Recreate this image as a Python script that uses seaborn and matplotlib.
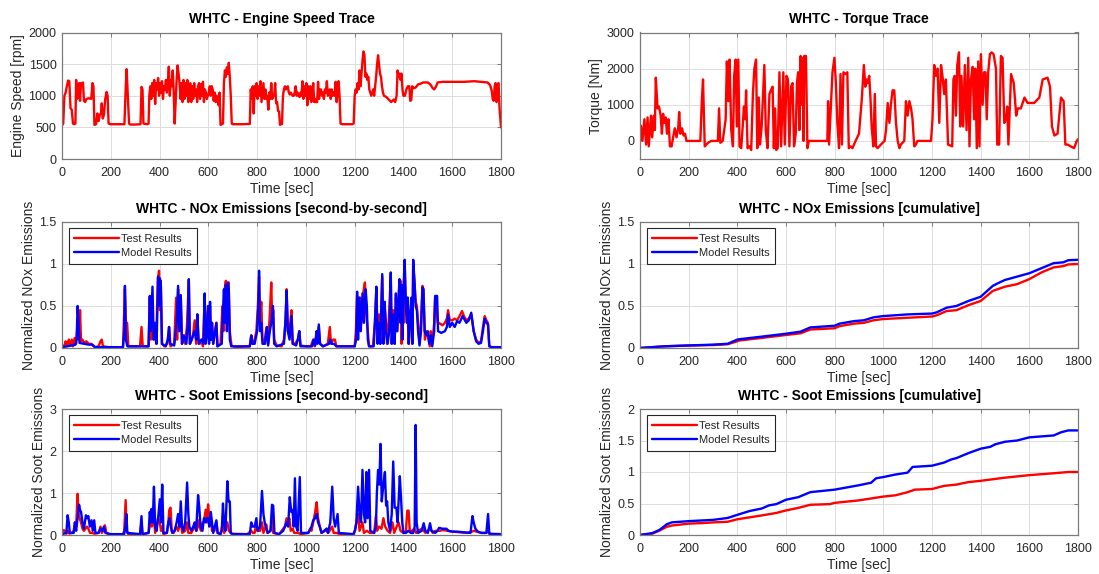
import matplotlib
matplotlib.use("Agg")
import matplotlib.pyplot as plt
import seaborn as sns
import pandas as pd

# ---------------- Engine speed trace [rpm] ----------------
speed_t = [0, 5, 10, 15, 20, 25, 30, 35, 40, 45, 50, 55, 58, 62, 66, 70, 74, 78, 82, 86, 90, 95, 100, 110, 120,
           125, 129, 133, 140, 145, 150, 155, 160, 163, 167, 172, 177, 183, 187, 191, 200, 230, 256, 261, 265,
           270, 275, 280, 300, 322, 326, 330, 334, 350, 355, 358, 362, 366, 370, 374, 378, 382, 386, 390, 394,
           398, 402, 406, 410, 414, 418, 422, 426, 430, 434, 438, 442, 446, 450, 454, 458, 462, 466, 470, 474,
           478, 482, 486, 490, 494, 498, 502, 506, 510, 514, 518, 522, 526, 530, 534, 538, 542, 546, 550, 554,
           558, 562, 566, 570, 574, 578, 582, 586, 590, 594, 598, 602, 606, 610, 614, 618, 622, 626, 630, 634,
           638, 642, 646, 650, 655, 660, 664, 668, 672, 676, 680, 684, 688, 692, 696, 700, 740, 770, 774, 778,
           782, 786, 790, 794, 798, 802, 806, 810, 814, 818, 822, 826, 830, 834, 838, 842, 846, 850, 854, 858,
           862, 866, 870, 874, 878, 882, 886, 890, 894, 898, 902, 906, 910, 914, 918, 922, 926, 930, 934, 938,
           942, 946, 950, 954, 958, 962, 966, 970, 974, 978, 982, 986, 990, 994, 998, 1002, 1006, 1010, 1014,
           1018, 1022, 1026, 1030, 1034, 1038, 1042, 1046, 1050, 1054, 1058, 1062, 1066, 1070, 1074, 1078, 1082,
           1086, 1090, 1094, 1098, 1102, 1106, 1110, 1114, 1118, 1122, 1126, 1130, 1134, 1138, 1142, 1150, 1190,
           1196, 1200, 1204, 1208, 1212, 1216, 1220, 1224, 1228, 1232, 1236, 1240, 1244, 1248, 1252, 1256, 1260,
           1264, 1268, 1272, 1276, 1280, 1284, 1288, 1292, 1296, 1300, 1304, 1308, 1312, 1316, 1320, 1330, 1340,
           1350, 1360, 1366, 1372, 1376, 1380, 1384, 1388, 1392, 1396, 1400, 1406, 1412, 1418, 1424, 1428, 1432,
           1436, 1442, 1450, 1460, 1470, 1480, 1500, 1510, 1520, 1526, 1534, 1540, 1560, 1600, 1650, 1690, 1720,
           1745, 1755, 1762, 1766, 1770, 1774, 1778, 1782, 1786, 1790, 1794, 1800]
speed_rpm = [530, 560, 1000, 1050, 1150, 1240, 1230, 800, 780, 560, 550, 560, 1250, 950, 1000, 1200, 920, 1200,
             1180, 1210, 920, 900, 950, 960, 950, 1200, 1150, 540, 550, 720, 600, 700, 720, 880, 640, 700, 940,
             1060, 1000, 560, 550, 550, 550, 1100, 1420, 1000, 560, 545, 545, 550, 1140, 1100, 560, 550, 560,
             1000, 1150, 950, 1200, 1000, 1250, 870, 1200, 1100, 1280, 1000, 1200, 1050, 1230, 950, 1150, 1100,
             1250, 1050, 1200, 1460, 1000, 1250, 1150, 1400, 1050, 560, 900, 1250, 1480, 1350, 1200, 950, 1200,
             900, 1250, 950, 1200, 1000, 1250, 900, 1100, 1200, 900, 1150, 950, 1200, 1000, 1100, 900, 1150,
             1200, 950, 1180, 1000, 1220, 900, 1100, 1050, 950, 1000, 1050, 1150, 1000, 1150, 1100, 920, 1050,
             900, 1000, 920, 850, 1050, 540, 550, 560, 1200, 1400, 1300, 1450, 1350, 1520, 1300, 1000, 560, 550,
             550, 555, 1100, 950, 1150, 720, 1150, 1000, 1200, 950, 1150, 1000, 1230, 900, 1050, 1200, 950, 1100,
             950, 1000, 780, 1050, 950, 1200, 950, 1000, 1000, 1200, 880, 900, 760, 750, 540, 560, 550, 1000,
             1100, 1150, 1100, 1120, 1150, 1050, 1020, 1050, 1020, 1000, 1000, 1050, 1150, 1000, 1050, 1000, 980,
             1050, 1000, 1230, 950, 1150, 1000, 1200, 850, 1150, 950, 1150, 900, 1000, 1200, 900, 950, 900, 900,
             1220, 950, 1100, 1100, 1000, 1050, 950, 1100, 1050, 1230, 1000, 1050, 1100, 950, 1100, 1000, 1050,
             1000, 1220, 900, 1050, 1230, 1000, 560, 550, 550, 560, 1000, 1100, 1050, 1200, 1100, 1400, 1150,
             1350, 1550, 1700, 1650, 1300, 1350, 1250, 1300, 1100, 1050, 1000, 1050, 1100, 1000, 1150, 1300, 1500,
             1640, 1500, 1350, 1300, 1150, 1050, 1000, 980, 940, 900, 940, 900, 1000, 1400, 1300, 1350, 1250,
             1350, 1100, 1000, 1000, 1100, 1150, 1150, 920, 930, 1150, 1120, 1130, 1180, 1190, 1210, 1210, 1180,
             1120, 1100, 1150, 1210, 1220, 1220, 1220, 1230, 1220, 1210, 1170, 1080, 950, 920, 1150, 1200, 900,
             1180, 1200, 800, 500]

# ---------------- Torque trace [Nm] ----------------
torque_t = [0, 4, 10, 18, 25, 31, 36, 45, 50, 57,
            61, 65, 72, 78, 85, 90, 95, 100, 106, 111,
            117, 123, 130, 136, 143, 150, 157, 161, 166, 173,
            179, 185, 191, 220, 248, 254, 259, 266, 280, 293,
            320, 325, 330, 340, 352, 357, 363, 368, 375, 382,
            387, 393, 398, 404, 409, 416, 423, 427, 432, 436,
            442, 450, 457, 464, 470, 477, 482, 488, 493, 500,
            505, 511, 517, 524, 532, 538, 545, 550, 555, 560,
            566, 573, 580, 589, 595, 602, 608, 614, 621, 627,
            633, 640, 645, 650, 655, 660, 664, 668, 672, 675,
            682, 688, 694, 700, 740, 770, 773, 777, 784, 791,
            799, 805, 811, 818, 824, 830, 836, 845, 852, 858,
            866, 873, 886, 900, 906, 912, 920, 926, 931, 936,
            942, 947, 952, 959, 965, 970, 976, 990, 1005, 1011,
            1018, 1025, 1031, 1038, 1045, 1052, 1059, 1066, 1072, 1086,
            1093, 1100, 1107, 1114, 1120, 1127, 1134, 1140, 1160, 1196,
            1202, 1209, 1216, 1223, 1230, 1237, 1243, 1250, 1257, 1266,
            1283, 1288, 1293, 1298, 1304, 1311, 1316, 1321, 1328, 1335,
            1342, 1349, 1354, 1360, 1367, 1373, 1378, 1384, 1390, 1395,
            1401, 1408, 1414, 1420, 1425, 1431, 1438, 1445, 1453, 1463,
            1468, 1476, 1483, 1490, 1497, 1504, 1509, 1514, 1525, 1536,
            1546, 1552, 1565, 1580, 1593, 1620, 1641, 1655, 1675, 1685,
            1693, 1703, 1716, 1730, 1741, 1748, 1757, 1770, 1784, 1795,
            1800]
torque_nm = [0, 420, 0, 600, -100, 650, -150, 700, 100, 700,
             300, 1750, 900, 950, 700, 200, 750, 500, 650, 200,
             600, -150, -150, 100, 350, 100, 350, 800, 200, 350,
             150, 200, 0, 0, 0, 1100, 1700, -150, -50, 0,
             0, 900, -50, 0, 600, 2200, 1100, 2250, 300, -150,
             1800, 2250, 400, 2250, -150, -200, 500, 950, 600, 1400,
             -200, -150, -250, 1300, 2000, 2250, -200, 1200, -100, 400,
             1200, 2100, 300, -200, 1300, 1400, 1500, -200, 900, -250,
             -200, 1900, -150, 1900, -100, 1800, 1700, -150, 1500, 1600,
             -150, 200, 1600, 1900, 300, 2350, 1000, 2300, 0, 2350,
             2350, -200, 0, 0, 0, 0, 1100, -100, 900, 1900,
             2300, 1600, 500, -200, 1850, -100, 1900, 1850, 1900, -200,
             -150, -200, 0, 200, 700, 1200, 2100, 1500, 1700, 1600,
             1800, 1200, 400, -150, 1300, -150, -200, -100, 0, 300,
             1050, 500, 1000, 1400, 1400, 500, 0, -200, -100, 0,
             1100, 700, 1100, 900, 600, -150, -100, 0, 0, 0,
             600, 2100, 1800, 2000, 500, 2100, 1800, 1300, 1700, -100,
             -150, 1700, 1800, 700, 2100, 2450, 400, 1800, 400, 2100,
             300, 2300, -150, 1700, 2050, 600, 2000, -200, 2200, -150,
             2400, 1000, 1900, 1900, 600, 1900, 2400, 2450, 2400, 2000,
             -100, -100, 2350, 2300, 500, 600, 950, -100, 1850, 1600,
             700, 900, 900, 1200, 1050, 1050, 1200, 1700, 1750, 1500,
             400, 150, 200, 1200, 1100, -100, -100, -150, -200, 0,
             50]

# ---------------- NOx, second-by-second (normalized) ----------------
nox_test_t = [0, 10, 15, 20, 28, 33, 40, 45, 52, 58, 64, 70, 74, 78, 84, 90, 100, 110, 120, 126, 135, 150, 158,
              163, 168, 190, 250, 258, 262, 267, 272, 320, 326, 331, 355, 360, 364, 371, 375, 380, 386, 393, 398,
              402, 405, 410, 420, 432, 439, 445, 460, 468, 472, 476, 480, 487, 492, 500, 505, 512, 520, 525, 532,
              537, 544, 550, 555, 560, 565, 572, 578, 585, 590, 599, 603, 607, 611, 615, 620, 633, 638, 650, 658,
              662, 667, 672, 676, 680, 683, 688, 695, 710, 770, 776, 781, 790, 797, 803, 808, 812, 817, 822, 830,
              836, 840, 845, 852, 858, 862, 866, 870, 880, 900, 910, 916, 921, 926, 932, 936, 941, 946, 955, 967,
              973, 978, 1000, 1020, 1030, 1036, 1044, 1048, 1053, 1058, 1070, 1090, 1098, 1103, 1112, 1119, 1125,
              1200, 1205, 1210, 1215, 1222, 1228, 1235, 1242, 1248, 1254, 1259, 1275, 1283, 1289, 1294, 1300,
              1305, 1313, 1318, 1323, 1328, 1333, 1340, 1348, 1352, 1358, 1364, 1369, 1375, 1382, 1388, 1392,
              1396, 1401, 1405, 1410, 1416, 1421, 1426, 1432, 1436, 1440, 1445, 1450, 1455, 1460, 1466, 1472,
              1478, 1482, 1488, 1494, 1500, 1508, 1512, 1518, 1526, 1530, 1535, 1540, 1545, 1560, 1570, 1578,
              1583, 1590, 1600, 1610, 1620, 1630, 1640, 1648, 1658, 1668, 1678, 1688, 1698, 1708, 1718, 1726,
              1733, 1740, 1746, 1752, 1760, 1800]
nox_test = [0.02, 0.03, 0.08, 0.02, 0.1, 0.03, 0.1, 0.02, 0.12, 0.05, 0.3, 0.1, 0.45, 0.08, 0.1, 0.06, 0.08, 0.05,
            0.05, 0.03, 0.01, 0.02, 0.08, 0.1, 0.02, 0.01, 0.01, 0.7, 0.3, 0.3, 0.02, 0.02, 0.25, 0.02, 0.02, 0.6,
            0.1, 0.3, 0.1, 0.25, 0.05, 0.82, 0.92, 0.45, 0.8, 0.05, 0.02, 0.05, 0.25, 0.02, 0.05, 0.6, 0.1, 0.7,
            0.3, 0.6, 0.05, 0.15, 0.05, 0.25, 0.8, 0.05, 0.1, 0.15, 0.33, 0.05, 0.4, 0.1, 0.05, 0.1, 0.02, 0.6,
            0.1, 0.45, 0.1, 0.5, 0.1, 0.3, 0.05, 0.3, 0.02, 0.05, 0.5, 0.2, 0.7, 0.8, 0.3, 0.75, 0.78, 0.2, 0.03,
            0.01, 0.02, 0.15, 0.05, 0.1, 0.2, 0.5, 0.85, 0.3, 0.55, 0.1, 0.05, 0.2, 0.25, 0.05, 0.4, 0.78, 0.3,
            0.45, 0.1, 0.03, 0.02, 0.1, 0.3, 0.7, 0.2, 0.15, 0.3, 0.45, 0.05, 0.05, 0.1, 0.2, 0.03, 0.02, 0.02,
            0.1, 0.02, 0.2, 0.1, 0.25, 0.05, 0.02, 0.05, 0.25, 0.05, 0.1, 0.1, 0.02, 0.02, 0.2, 0.62, 0.2, 0.6,
            0.3, 0.65, 0.78, 0.4, 0.2, 0.02, 0.02, 0.3, 0.7, 0.1, 0.4, 0.05, 0.85, 0.1, 0.5, 0.3, 0.05, 0.35,
            0.85, 0.05, 0.45, 0.05, 0.6, 0.2, 0.7, 0.8, 0.05, 0.7, 0.3, 1.0, 0.4, 0.6, 0.05, 0.3, 0.5, 0.05, 1.0,
            0.8, 0.55, 0.5, 0.3, 0.05, 0.3, 0.74, 0.7, 0.1, 0.2, 0.15, 0.02, 0.2, 0.05, 0.3, 0.6, 0.55, 0.3, 0.3,
            0.27, 0.3, 0.35, 0.45, 0.33, 0.33, 0.35, 0.33, 0.38, 0.44, 0.38, 0.33, 0.35, 0.4, 0.2, 0.1, 0.06, 0.08,
            0.25, 0.38, 0.33, 0.3, 0.03, 0.01, 0.01]

nox_model_t = [0, 20, 40, 55, 60, 64, 68, 72, 90, 110, 125, 135, 250, 255, 258, 262, 268, 355, 360, 364, 371,
               376, 382, 388, 394, 398, 401, 405, 410, 425, 434, 439, 443, 460, 470, 476, 481, 487, 492, 500, 505,
               510, 516, 520, 524, 532, 537, 544, 550, 555, 560, 572, 580, 585, 589, 594, 599, 603, 607, 611, 615,
               620, 633, 637, 655, 660, 664, 668, 672, 676, 680, 684, 688, 694, 770, 776, 781, 790, 800, 805, 808,
               812, 817, 822, 832, 840, 845, 852, 858, 865, 870, 880, 910, 916, 921, 926, 933, 941, 946, 960, 967,
               973, 978, 1025, 1032, 1038, 1044, 1048, 1053, 1058, 1070, 1095, 1100, 1106, 1115, 1125, 1200, 1206,
               1210, 1214, 1219, 1225, 1232, 1238, 1245, 1250, 1254, 1259, 1278, 1283, 1289, 1294, 1300, 1305,
               1313, 1318, 1323, 1328, 1335, 1342, 1348, 1352, 1358, 1364, 1369, 1374, 1380, 1384, 1388, 1392,
               1396, 1400, 1405, 1410, 1414, 1418, 1422, 1428, 1433, 1437, 1440, 1446, 1450, 1455, 1460, 1466,
               1472, 1478, 1482, 1487, 1494, 1500, 1506, 1512, 1518, 1526, 1530, 1538, 1542, 1555, 1570, 1578,
               1583, 1590, 1600, 1610, 1620, 1630, 1642, 1650, 1658, 1668, 1678, 1688, 1698, 1708, 1718, 1726,
               1733, 1740, 1747, 1752, 1760, 1800]
nox_model = [0.01, 0.02, 0.03, 0.04, 0.1, 0.5, 0.3, 0.06, 0.05, 0.04, 0.04, 0.01, 0.01, 0.2, 0.74, 0.1, 0.02,
             0.02, 0.62, 0.2, 0.73, 0.1, 0.3, 0.05, 0.85, 0.5, 0.83, 0.78, 0.05, 0.02, 0.1, 0.25, 0.05, 0.03, 0.3,
             0.74, 0.2, 0.63, 0.05, 0.15, 0.1, 0.05, 0.3, 0.82, 0.05, 0.1, 0.15, 0.2, 0.1, 0.4, 0.05, 0.1, 0.05,
             0.65, 0.05, 0.15, 0.5, 0.05, 0.55, 0.1, 0.3, 0.05, 0.3, 0.02, 0.05, 0.45, 0.7, 0.3, 0.75, 0.2, 0.78,
             0.7, 0.1, 0.02, 0.02, 0.15, 0.05, 0.05, 0.2, 0.5, 0.92, 0.2, 0.3, 0.05, 0.05, 0.25, 0.03, 0.2, 0.3,
             0.5, 0.05, 0.02, 0.05, 0.3, 0.68, 0.2, 0.1, 0.38, 0.05, 0.03, 0.1, 0.2, 0.02, 0.02, 0.1, 0.03, 0.2,
             0.05, 0.28, 0.05, 0.02, 0.05, 0.1, 0.05, 0.05, 0.02, 0.02, 0.1, 0.67, 0.1, 0.6, 0.2, 0.65, 0.3, 0.7,
             0.5, 0.1, 0.02, 0.02, 0.3, 0.73, 0.05, 0.3, 0.05, 0.88, 0.05, 0.55, 0.2, 0.05, 0.2, 0.9, 0.05, 0.4,
             0.05, 0.65, 0.2, 0.6, 0.82, 0.3, 0.75, 0.1, 0.7, 1.05, 0.5, 0.3, 0.6, 0.05, 0.4, 0.6, 0.05, 1.05,
             0.75, 0.5, 0.45, 0.2, 0.03, 0.2, 0.72, 0.7, 0.2, 0.15, 0.2, 0.05, 0.15, 0.02, 0.2, 0.62, 0.62, 0.2,
             0.18, 0.2, 0.25, 0.4, 0.25, 0.3, 0.25, 0.32, 0.3, 0.38, 0.34, 0.3, 0.33, 0.42, 0.2, 0.08, 0.05, 0.06,
             0.2, 0.35, 0.3, 0.28, 0.02, 0.01, 0.01]

# ---------------- NOx, cumulative (normalized) ----------------
nox_cum_t = [0, 100, 200, 300, 360, 400, 410, 500, 600, 660, 700, 800, 820, 880, 920, 960, 1000, 1100, 1200,
             1220, 1260, 1300, 1350, 1400, 1450, 1470, 1500, 1550, 1600, 1650, 1700, 1740, 1760, 1800]
nox_cum_test = [0, 0.02, 0.03, 0.035, 0.045, 0.08, 0.09, 0.12, 0.155, 0.175, 0.22, 0.235, 0.26, 0.29, 0.30,
                0.33, 0.345, 0.36, 0.375, 0.39, 0.44, 0.45, 0.51, 0.56, 0.68, 0.70, 0.73, 0.76, 0.82, 0.90,
                0.96, 0.975, 0.995, 1.0]
nox_cum_model = [0, 0.02, 0.03, 0.04, 0.05, 0.10, 0.105, 0.135, 0.17, 0.195, 0.245, 0.265, 0.29, 0.32, 0.33,
                 0.365, 0.38, 0.40, 0.41, 0.425, 0.48, 0.50, 0.56, 0.61, 0.74, 0.77, 0.81, 0.85, 0.89, 0.95,
                 1.01, 1.02, 1.045, 1.05]

# ---------------- Soot, second-by-second (normalized) ----------------
soot_test_t = [0, 5, 12, 18, 25, 30, 40, 48, 53, 58, 64, 68, 72, 78, 84, 90, 96, 102, 108, 115, 125, 133, 150,
               158, 163, 170, 176, 182, 200, 250, 255, 261, 265, 272, 320, 326, 330, 355, 362, 368, 377, 382, 394,
               401, 406, 411, 416, 430, 436, 440, 445, 450, 458, 470, 476, 487, 493, 505, 513, 518, 530, 540, 547,
               552, 558, 563, 570, 576, 582, 589, 594, 599, 604, 610, 615, 625, 633, 638, 650, 660, 665, 678, 684,
               695, 760, 776, 782, 790, 797, 802, 812, 820, 826, 838, 842, 855, 861, 866, 890, 907, 914, 921, 927,
               932, 938, 946, 952, 960, 968, 980, 1010, 1018, 1023, 1030, 1038, 1044, 1050, 1057, 1064, 1080, 1085,
               1092, 1108, 1114, 1125, 1140, 1195, 1201, 1207, 1214, 1220, 1232, 1238, 1250, 1262, 1280, 1287,
               1292, 1300, 1310, 1318, 1325, 1335, 1345, 1355, 1362, 1372, 1380, 1388, 1400, 1410, 1416, 1421,
               1426, 1434, 1445, 1452, 1460, 1475, 1483, 1490, 1500, 1510, 1520, 1530, 1550, 1560, 1580, 1600,
               1620, 1640, 1660, 1680, 1690, 1700, 1720, 1740, 1748, 1755, 1800]
soot_test = [0.02, 0.12, 0.1, 0.03, 0.1, 0.03, 0.05, 0.1, 0.3, 0.2, 0.98, 0.5, 0.4, 0.3, 0.15, 0.1, 0.15, 0.2,
             0.15, 0.05, 0.05, 0.03, 0.05, 0.2, 0.05, 0.1, 0.23, 0.05, 0.02, 0.02, 0.1, 0.83, 0.1, 0.02, 0.02, 0.3,
             0.02, 0.05, 0.3, 0.2, 0.4, 0.05, 0.4, 0.3, 0.1, 0.2, 0.02, 0.05, 0.3, 0.6, 0.65, 0.1, 0.05, 0.2, 0.1,
             0.3, 0.05, 0.1, 0.3, 0.05, 0.05, 0.15, 0.25, 0.1, 0.35, 0.2, 0.1, 0.3, 0.3, 0.6, 0.3, 0.73, 0.4, 0.5,
             0.1, 0.1, 0.3, 0.05, 0.02, 0.3, 0.05, 0.3, 0.1, 0.03, 0.02, 0.1, 0.05, 0.05, 0.3, 0.1, 0.1, 0.3, 0.05,
             0.25, 0.05, 0.1, 0.4, 0.05, 0.02, 0.15, 0.2, 0.4, 0.25, 0.4, 0.1, 0.15, 0.05, 0.05, 0.05, 0.02, 0.05,
             0.15, 0.1, 0.3, 0.55, 0.78, 0.4, 0.2, 0.05, 0.1, 0.15, 0.05, 0.2, 0.05, 0.05, 0.02, 0.02, 0.1, 0.3,
             0.5, 0.1, 0.3, 0.05, 0.1, 0.05, 0.05, 0.45, 0.1, 0.2, 0.15, 0.4, 0.2, 0.1, 0.05, 0.3, 0.05, 0.2, 0.3,
             0.1, 0.05, 0.1, 0.58, 0.58, 0.1, 0.1, 0.15, 0.05, 0.1, 0.15, 0.1, 0.05, 0.1, 0.15, 0.05, 0.1, 0.1,
             0.12, 0.1, 0.08, 0.07, 0.06, 0.05, 0.08, 0.1, 0.08, 0.05, 0.05, 0.1, 0.02, 0.02]

soot_model_t = [0, 18, 23, 28, 32, 48, 53, 58, 64, 70, 74, 78, 84, 90, 98, 103, 108, 114, 121, 126, 132, 137,
                150, 158, 165, 172, 178, 195, 255, 260, 264, 268, 320, 326, 330, 355, 360, 364, 367, 372, 377, 382,
                388, 394, 401, 406, 411, 416, 430, 436, 441, 446, 452, 462, 470, 476, 482, 487, 492, 498, 505, 513,
                518, 522, 530, 538, 544, 550, 558, 563, 568, 576, 582, 589, 594, 599, 604, 610, 615, 620, 633, 638,
                650, 655, 660, 664, 670, 678, 683, 688, 692, 700, 770, 776, 782, 790, 797, 802, 812, 820, 826, 831,
                838, 844, 855, 861, 866, 871, 890, 907, 914, 921, 927, 934, 940, 945, 950, 955, 960, 966, 975, 980,
                1010, 1023, 1030, 1038, 1044, 1050, 1057, 1064, 1085, 1090, 1100, 1108, 1114, 1120, 1130, 1135,
                1195, 1201, 1207, 1214, 1220, 1226, 1232, 1238, 1243, 1248, 1253, 1259, 1264, 1280, 1287, 1291,
                1296, 1301, 1306, 1311, 1317, 1324, 1329, 1333, 1338, 1345, 1352, 1358, 1364, 1371, 1376, 1385,
                1390, 1395, 1400, 1410, 1420, 1430, 1440, 1446, 1450, 1454, 1460, 1475, 1483, 1490, 1500, 1509,
                1515, 1530, 1540, 1546, 1560, 1576, 1585, 1600, 1620, 1640, 1660, 1675, 1683, 1688, 1695, 1705,
                1720, 1740, 1747, 1752, 1800]
soot_model = [0.02, 0.05, 0.47, 0.3, 0.05, 0.05, 0.3, 0.1, 0.4, 0.72, 0.6, 0.55, 0.3, 0.15, 0.47, 0.4, 0.45, 0.2,
              0.35, 0.1, 0.35, 0.05, 0.05, 0.15, 0.1, 0.2, 0.05, 0.02, 0.02, 0.2, 0.5, 0.05, 0.02, 0.45, 0.02, 0.05,
              0.55, 0.3, 0.62, 0.3, 1.15, 0.2, 0.1, 0.4, 0.85, 0.3, 1.2, 0.05, 0.05, 0.3, 0.4, 0.2, 0.05, 0.1, 0.3,
              0.5, 0.2, 0.8, 0.2, 0.1, 0.3, 1.25, 0.5, 0.2, 0.1, 0.2, 0.3, 0.1, 0.95, 0.65, 0.2, 0.1, 0.4, 0.3,
              0.4, 0.4, 0.2, 0.55, 0.3, 0.05, 0.35, 0.05, 0.02, 0.1, 0.75, 0.3, 0.1, 1.28, 0.8, 0.8, 0.05, 0.02,
              0.02, 0.3, 0.2, 0.2, 0.4, 0.1, 0.2, 1.05, 0.5, 0.3, 0.15, 0.05, 0.1, 0.72, 0.7, 0.05, 0.02, 0.1, 0.2,
              0.3, 0.2, 0.9, 0.55, 0.6, 0.2, 1.35, 0.2, 0.1, 1.38, 0.05, 0.05, 0.2, 0.35, 0.4, 0.5, 0.3, 0.2, 0.05,
              0.15, 0.05, 0.3, 1.15, 0.4, 0.2, 0.5, 0.05, 0.02, 0.1, 0.3, 1.15, 0.5, 0.3, 1.55, 0.5, 0.3, 1.5, 0.4,
              1.55, 0.1, 0.05, 0.2, 1.0, 1.55, 1.2, 2.17, 0.8, 1.15, 1.5, 0.7, 0.8, 0.3, 0.1, 0.5, 1.75, 0.65, 0.65,
              0.3, 1.4, 0.9, 0.3, 0.05, 0.05, 0.1, 0.05, 0.05, 0.2, 2.62, 0.3, 0.05, 0.1, 0.28, 0.1, 0.05, 0.28,
              0.1, 0.05, 0.1, 0.17, 0.15, 0.15, 0.1, 0.08, 0.08, 0.07, 0.06, 0.05, 0.45, 0.3, 0.15, 0.08, 0.05,
              0.05, 0.5, 0.03, 0.02]

# ---------------- Soot, cumulative (normalized) ----------------
soot_cum_test_t = [0, 50, 80, 110, 130, 200, 260, 300, 360, 400, 500, 560, 600, 650, 700, 780, 800, 900, 950,
                   1000, 1050, 1100, 1130, 1200, 1250, 1300, 1350, 1400, 1500, 1600, 1700, 1760, 1800]
soot_cum_test = [0, 0.02, 0.07, 0.13, 0.15, 0.18, 0.19, 0.20, 0.21, 0.25, 0.31, 0.35, 0.39, 0.43, 0.48, 0.49,
                 0.51, 0.55, 0.58, 0.61, 0.63, 0.68, 0.72, 0.73, 0.78, 0.80, 0.84, 0.86, 0.91, 0.95, 0.98, 1.0,
                 1.0]
soot_cum_model_t = [0, 50, 80, 110, 130, 200, 300, 360, 400, 450, 500, 530, 560, 600, 650, 700, 800, 900, 950,
                    970, 1000, 1050, 1100, 1120, 1200, 1250, 1280, 1300, 1350, 1400, 1440, 1460, 1500, 1550, 1600,
                    1700, 1730, 1760, 1800]
soot_cum_model = [0, 0.03, 0.08, 0.17, 0.20, 0.22, 0.24, 0.27, 0.32, 0.38, 0.42, 0.47, 0.49, 0.56, 0.60, 0.68,
                  0.72, 0.79, 0.83, 0.90, 0.92, 0.96, 0.99, 1.08, 1.10, 1.15, 1.20, 1.22, 1.30, 1.37, 1.40, 1.44,
                  1.48, 1.50, 1.55, 1.58, 1.63, 1.66, 1.66]

x_ticks = list(range(0, 1801, 200))
legend_labels = ["Test Results", "Model Results"]

# ---------------- styling ----------------
sns.set_theme(style="whitegrid")
plt.rcParams["font.family"] = ["Liberation Sans", "DejaVu Sans"]
TEXT = "#262626"
RED = "#ff0000"
BLUE = "#0000ff"
LW = 1.7

fig = plt.figure(figsize=(10.99, 5.74), dpi=100)
fig.patch.set_facecolor("white")

W, H = 1099.0, 574.0
def place(x0, x1, y0, y1):
    return fig.add_axes([x0 / W, 1 - y1 / H, (x1 - x0) / W, (y1 - y0) / H])

ax_speed = place(62, 501, 32.5, 159)
ax_torque = place(640, 1078, 32.5, 159)
ax_nox = place(62, 501, 222, 348)
ax_noxc = place(640, 1078, 222, 348)
ax_soot = place(62, 501, 409, 535)
ax_sootc = place(640, 1078, 409, 535)


def draw(ax, t, v, color, label=None):
    df = pd.DataFrame({"t": t, "v": v})
    sns.lineplot(data=df, x="t", y="v", ax=ax, color=color, lw=LW, sort=False,
                 estimator=None, label=label, legend=False)


def style(ax, title, ylabel, ylim, yticks, yticklabels):
    ax.set_facecolor("white")
    ax.set_xlim(0, 1800)
    ax.set_ylim(*ylim)
    ax.set_xticks(x_ticks)
    ax.set_xticklabels([str(x) for x in x_ticks])
    ax.set_yticks(yticks)
    ax.set_yticklabels(yticklabels)
    ax.grid(True, color="#dcdcdc", lw=0.7)
    for s in ax.spines.values():
        s.set_color("#7a7a7a")
        s.set_linewidth(0.9)
        s.set_visible(True)
    ax.tick_params(direction="in", length=3, width=0.7, color="#7a7a7a", top=True, right=True,
                   labelsize=9, labelcolor=TEXT)
    ax.tick_params(axis="x", pad=6)
    ax.tick_params(axis="y", pad=4)
    ax.set_title(title, fontsize=10, fontweight="bold", color="black", pad=6.5)
    ax.set_xlabel("Time [sec]", fontsize=10, color=TEXT, labelpad=2)
    ax.set_ylabel(ylabel, fontsize=10, color=TEXT, labelpad=2.5)


def add_legend(ax):
    leg = ax.legend(loc="upper left", fontsize=8, handlelength=4.0, handletextpad=0.2,
                    borderpad=0.5, labelspacing=0.4, fancybox=False, framealpha=1,
                    edgecolor="#262626", bbox_to_anchor=(0.015, 0.95), borderaxespad=0)
    leg.get_frame().set_linewidth(0.8)


draw(ax_speed, speed_t, speed_rpm, RED)
style(ax_speed, "WHTC - Engine Speed Trace", "Engine Speed [rpm]", (0, 2000),
      [0, 500, 1000, 1500, 2000], ["0", "500", "1000", "1500", "2000"])

draw(ax_torque, torque_t, torque_nm, RED)
style(ax_torque, "WHTC - Torque Trace", "Torque [Nm]", (-500, 3000),
      [0, 1000, 2000, 3000], ["0", "1000", "2000", "3000"])

draw(ax_nox, nox_test_t, nox_test, RED, legend_labels[0])
draw(ax_nox, nox_model_t, nox_model, BLUE, legend_labels[1])
style(ax_nox, "WHTC - NOx Emissions [second-by-second]", "Normalized NOx Emissions", (0, 1.5),
      [0, 0.5, 1, 1.5], ["0", "0.5", "1", "1.5"])
add_legend(ax_nox)

draw(ax_noxc, nox_cum_t, nox_cum_test, RED, legend_labels[0])
draw(ax_noxc, nox_cum_t, nox_cum_model, BLUE, legend_labels[1])
style(ax_noxc, "WHTC - NOx Emissions [cumulative]", "Normalized NOx Emissions", (0, 1.5),
      [0, 0.5, 1, 1.5], ["0", "0.5", "1", "1.5"])
add_legend(ax_noxc)

draw(ax_soot, soot_test_t, soot_test, RED, legend_labels[0])
draw(ax_soot, soot_model_t, soot_model, BLUE, legend_labels[1])
style(ax_soot, "WHTC - Soot Emissions [second-by-second]", "Normalized Soot Emissions", (0, 3),
      [0, 1, 2, 3], ["0", "1", "2", "3"])
add_legend(ax_soot)

draw(ax_sootc, soot_cum_test_t, soot_cum_test, RED, legend_labels[0])
draw(ax_sootc, soot_cum_model_t, soot_cum_model, BLUE, legend_labels[1])
style(ax_sootc, "WHTC - Soot Emissions [cumulative]", "Normalized Soot Emissions", (0, 2),
      [0, 0.5, 1, 1.5, 2], ["0", "0.5", "1", "1.5", "2"])
add_legend(ax_sootc)

fig.savefig("out.png", dpi=100, facecolor="white")
